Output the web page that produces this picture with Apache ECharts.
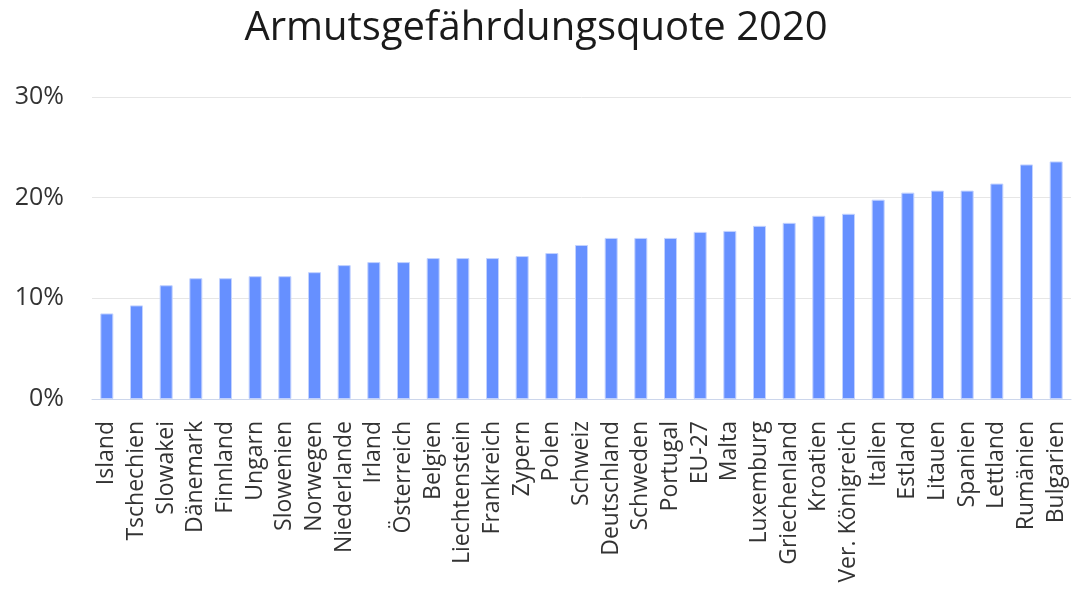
<!DOCTYPE html>
<html>
<head>
<meta charset="utf-8">
<script src="https://cdn.jsdelivr.net/npm/echarts@6/dist/echarts.min.js"></script>
<style>
  html, body { margin: 0; padding: 0; background: #fff; }
  #chart { width: 1072px; height: 596px; }
</style>
</head>
<body>
<div id="chart"></div>
<script>
let countries = [
  "Island", "Tschechien", "Slowakei", "Dänemark", "Finnland", "Ungarn",
  "Slowenien", "Norwegen", "Niederlande", "Irland", "Österreich", "Belgien",
  "Liechtenstein", "Frankreich", "Zypern", "Polen", "Schweiz", "Deutschland",
  "Schweden", "Portugal", "EU-27", "Malta", "Luxemburg", "Griechenland",
  "Kroatien", "Ver. Königreich", "Italien", "Estland", "Litauen", "Spanien",
  "Lettland", "Rumänien", "Bulgarien"
];
let quote = [
  8.5, 9.3, 11.3, 12.0, 12.0, 12.2,
  12.2, 12.6, 13.3, 13.6, 13.6, 14.0,
  14.0, 14.0, 14.2, 14.5, 15.3, 16.0,
  16.0, 16.0, 16.6, 16.7, 17.2, 17.5,
  18.2, 18.4, 19.8, 20.5, 20.7, 20.7,
  21.4, 23.3, 23.6
];

let chart = echarts.init(document.getElementById("chart"));
let font = "'Open Sans', 'Noto Sans', sans-serif";
let option = {
  backgroundColor: "#fff",
  animation: false,
  title: {
    text: "Armutsgefährdungsquote 2020",
    left: "center",
    top: 4,
    textStyle: {
      fontFamily: font,
      fontSize: 40,
      fontWeight: 500,
      color: "#1a1a1a",
    },
  },
  grid: {
    left: 92,
    right: 1,
    top: 97,
    bottom: 197,
    containLabel: false,
  },
  xAxis: {
    type: "category",
    data: countries,
    axisLine: { lineStyle: { color: "#ccd6eb", width: 1 } },
    axisTick: { show: false },
    axisLabel: {
      rotate: 90,
      interval: 0,
      margin: 22,
      fontFamily: font,
      fontSize: 23,
      color: "#333",
    },
  },
  yAxis: {
    type: "value",
    min: 0,
    max: 30,
    interval: 10,
    axisLine: { show: false },
    axisTick: { show: false },
    axisLabel: {
      formatter: "{value}%",
      margin: 28,
      fontFamily: font,
      fontSize: 25,
      color: "#333",
    },
    splitLine: { lineStyle: { color: "#e6e6e6", width: 1 } },
  },
  series: [
    {
      type: "bar",
      data: quote,
      barWidth: 13,
      itemStyle: {
        color: "#6690ff",
        borderColor: "#c2d2ff",
        borderWidth: 1,
      },
    },
  ],
};
chart.setOption(option);
</script>
</body>
</html>
